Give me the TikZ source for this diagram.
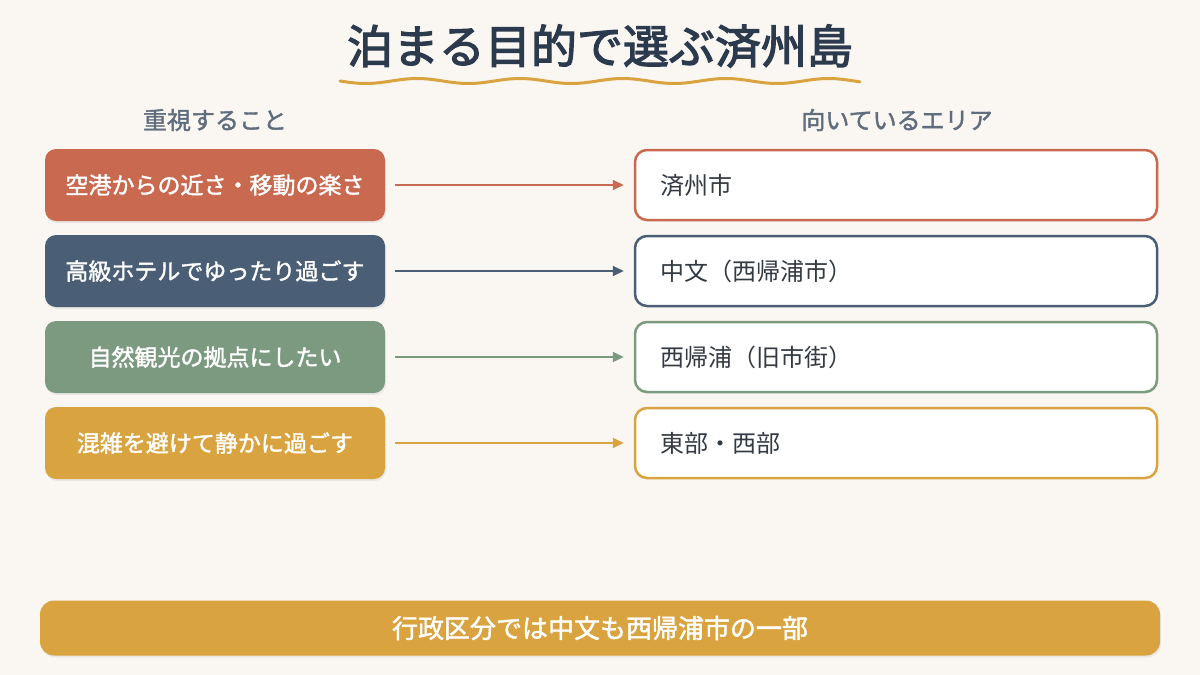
\documentclass[tikz,border=0pt]{standalone}
\usepackage{fontspec}
\setmainfont{Noto Sans CJK JP}
\newfontfamily\medfont[FakeBold=1.6]{Noto Sans CJK JP}
\newfontfamily\headfont[FakeBold=2.6]{Noto Sans CJK JP}
\usetikzlibrary{shadows, arrows.meta}

\definecolor{bgcream}{HTML}{FAF6F2}
\definecolor{titlenavy}{HTML}{2B3A4C}
\definecolor{headgray}{HTML}{5F6D7C}
\definecolor{cterra}{HTML}{C96A50}
\definecolor{cslate}{HTML}{4A5E75}
\definecolor{csage}{HTML}{7B9A7F}
\definecolor{cgold}{HTML}{D9A440}
\definecolor{textdark}{HTML}{333A42}

\begin{document}
\begin{tikzpicture}[x=1pt, y=-1pt, >={Triangle[length=11pt, width=10pt]},
    purpose/.style={rounded corners=11pt, minimum width=340pt, minimum height=72pt,
        text=white, font=\medfont\fontsize{23}{27}\selectfont,
        drop shadow={opacity=0.12, shadow xshift=1pt, shadow yshift=-2pt}},
    area/.style={draw=#1, line width=2.5pt, fill=white, rounded corners=12pt,
        text width=472pt, inner xsep=25pt, minimum height=70pt, align=left,
        text=textdark, font=\fontsize{24}{28}\selectfont},
    link/.style={->, line width=1.8pt, draw=#1, fill=#1, shorten <=10pt, shorten >=10pt},
    header/.style={text=headgray, font=\medfont\fontsize{24}{28}\selectfont}]

    % Fondo
    \fill[bgcream] (0,0) rectangle (1200,675);
    \useasboundingbox (0,0) rectangle (1200,675);

    % Título
    \node[text=titlenavy, font=\headfont\fontsize{46}{52}\selectfont] (title) at (600,46) {泊まる目的で選ぶ済州島};
    \draw[cgold, line width=3pt, line cap=round] plot[domain=340:860, samples=120] (\x, {81+2.5*sin((\x-340)*3.5)});

    % Encabezados
    \node[header] (hleft) at (215,120) {重視すること};
    \node[header] (hright) at (897,120) {向いているエリア};

    % Izquierda
    \node[purpose, fill=cterra] (p1) at (215,185) {空港からの近さ・移動の楽さ};
    \node[purpose, fill=cslate] (p2) at (215,271) {高級ホテルでゆったり過ごす};
    \node[purpose, fill=csage] (p3) at (215,357) {自然観光の拠点にしたい};
    \node[purpose, fill=cgold] (p4) at (215,443) {混雑を避けて静かに過ごす};

    % Derecha
    \node[area=cterra] (a1) at (896,185) {済州市};
    \node[area=cslate] (a2) at (896,271) {中文（西帰浦市）};
    \node[area=csage] (a3) at (896,357) {西帰浦（旧市街）};
    \node[area=cgold] (a4) at (896,443) {東部・西部};

    % Flechas
    \draw[link=cterra] (p1) -- (a1);
    \draw[link=cslate] (p2) -- (a2);
    \draw[link=csage] (p3) -- (a3);
    \draw[link=cgold] (p4) -- (a4);

    % Nota
    \node[fill=cgold, rounded corners=14pt, minimum width=1120pt, minimum height=55pt,
        text=white, font=\medfont\fontsize{26}{30}\selectfont,
        drop shadow={opacity=0.12, shadow xshift=1pt, shadow yshift=-2pt}] (note) at (600,628) {行政区分では中文も西帰浦市の一部};
\end{tikzpicture}
\end{document}
